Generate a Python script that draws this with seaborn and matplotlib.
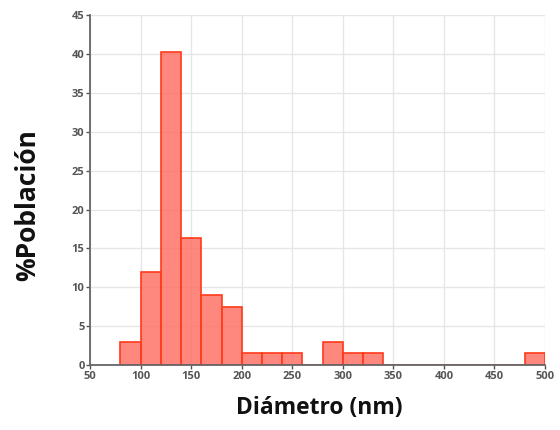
import matplotlib
matplotlib.use("Agg")
import matplotlib.pyplot as plt
import seaborn as sns
import numpy as np

bin_edges = [80, 100, 120, 140, 160, 180, 200, 220, 240, 260, 280, 300, 320, 340,
             360, 380, 400, 420, 440, 460, 480, 500]
percent = [3, 12, 40.3, 16.4, 9, 7.5, 1.5, 1.5, 1.5, 0, 3, 1.5, 1.5,
           0, 0, 0, 0, 0, 0, 0, 1.5]
x_ticks = [50, 100, 150, 200, 250, 300, 350, 400, 450, 500]
y_ticks = [0, 5, 10, 15, 20, 25, 30, 35, 40, 45]

sns.set_style("white")
plt.rcParams['font.family'] = ['Open Sans', 'DejaVu Sans']

fig = plt.figure(figsize=(5.6, 4.3), dpi=100)
ax = fig.add_axes([0.161, 0.151, 0.812, 0.814])

centers = [(a + b) / 2 for a, b in zip(bin_edges[:-1], bin_edges[1:])]
sns.histplot(x=centers, weights=percent, bins=bin_edges, ax=ax,
             color="#ff6a5e", alpha=0.8, edgecolor="#ff3a1a", linewidth=1.2)

ax.set_xlim(50, 500)
ax.set_ylim(0, 45)
ax.set_xticks(x_ticks)
ax.set_yticks(y_ticks)
ax.grid(True, color="#e6e6e6", linewidth=1)
ax.set_axisbelow(True)
for s in ["top", "right"]:
    ax.spines[s].set_visible(False)
for s in ["left", "bottom"]:
    ax.spines[s].set_color("#666666")
    ax.spines[s].set_linewidth(1.3)
ax.tick_params(axis="both", labelsize=8, colors="#555555", length=3, width=1,
               direction="out", left=True, bottom=True, pad=1)
for lab in ax.get_xticklabels() + ax.get_yticklabels():
    lab.set_fontweight("bold")
ax.set_xlabel("Diámetro (nm)", fontsize=16.5, fontweight="bold", color="#111111")
ax.set_ylabel("%Población", fontsize=19, fontweight="bold", color="#111111")
ax.xaxis.set_label_coords(0.503, -0.088)
ax.yaxis.set_label_coords(-0.108, 0.457)

fig.savefig("out.png", dpi=100)
